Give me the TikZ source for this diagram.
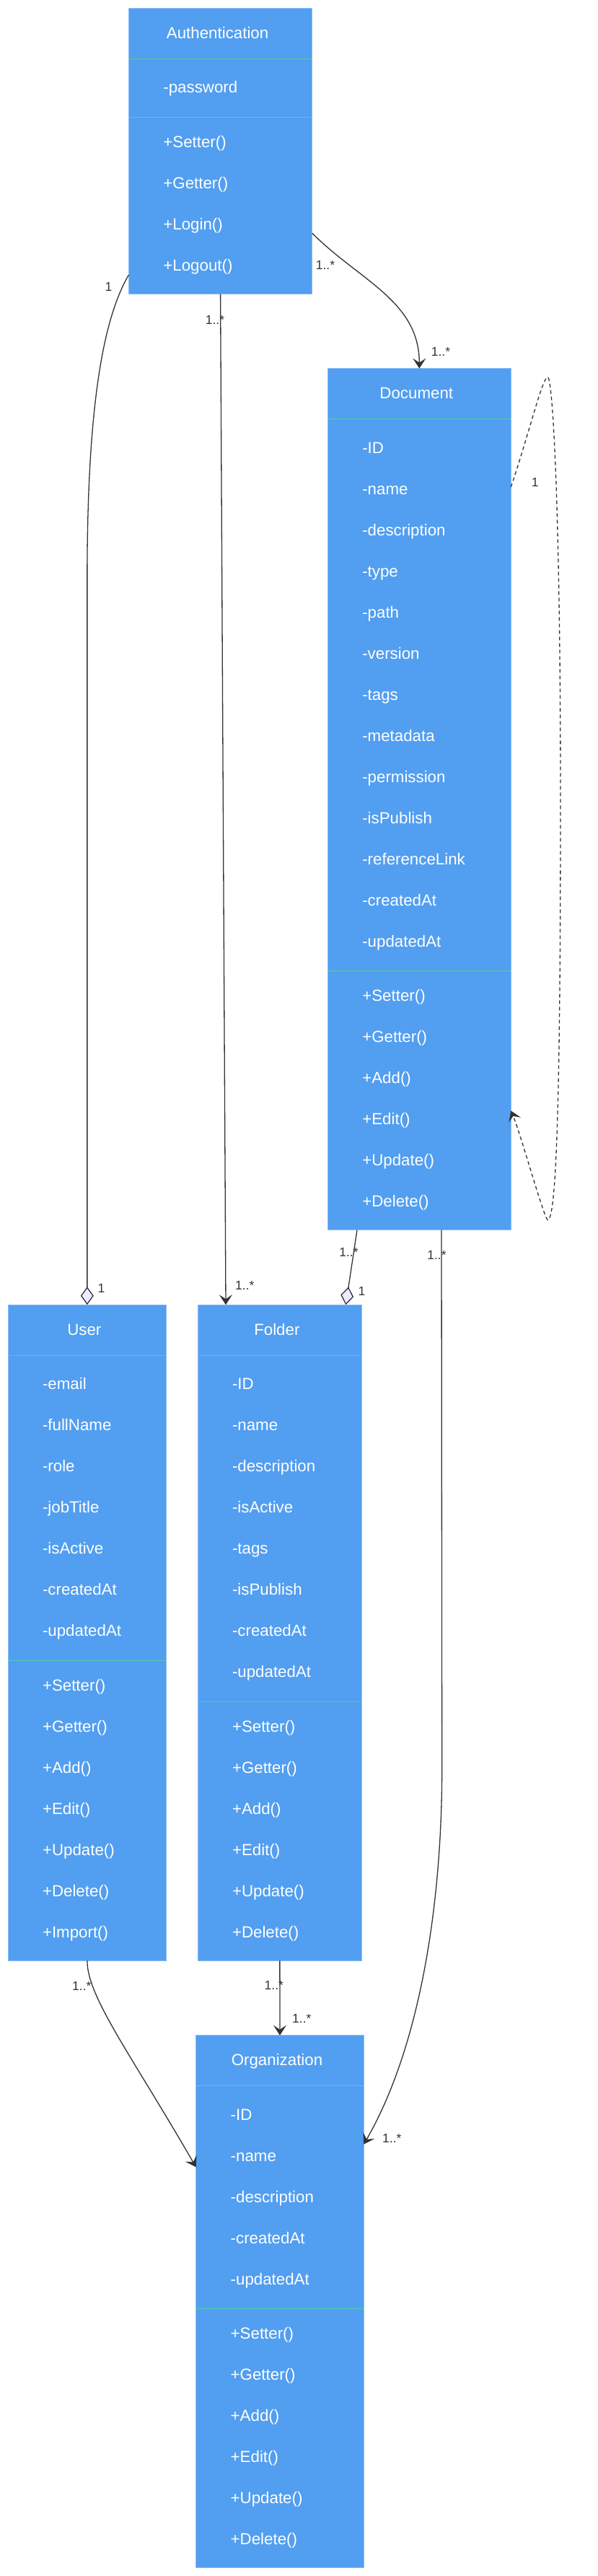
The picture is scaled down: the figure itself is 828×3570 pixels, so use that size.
\documentclass[tikz,border=0pt]{standalone}
\usepackage{fontspec}
\setmainfont{Liberation Sans}
\usepackage{tikz}
\usetikzlibrary{arrows.meta}
\usetikzlibrary{calc}
\usetikzlibrary{positioning}
\definecolor{classblue}{RGB}{82,158,240}
\definecolor{classedge}{RGB}{140,190,246}
\definecolor{splitcol}{RGB}{78,208,170}
\definecolor{linkgray}{RGB}{51,51,51}
\definecolor{diamondfill}{RGB}{236,236,255}
\newcommand{\linestrut}[1]{\rule[-#1]{0pt}{57pt}}
\tikzset{cls/.style={rectangle, fill=classblue, draw=classedge, line width=0.8pt, inner sep=0pt, outer sep=0pt, text=white, font=\fontsize{22.3}{57}\selectfont}}
\tikzset{clstitle/.style={cls, minimum height=70pt, anchor=north, execute at begin node=\linestrut{21.5pt}, execute at end node={\linestrut{21.5pt}\hspace*{8pt}}}}
\tikzset{attrbox/.style={cls, align=left, inner xsep=48pt, execute at begin node=\linestrut{21.5pt}, execute at end node=\linestrut{21.5pt}}}
\tikzset{methbox/.style={cls, align=left, inner xsep=48pt, execute at begin node=\linestrut{23.5pt}, execute at end node=\linestrut{23.5pt}}}
\tikzset{splitrule/.style={draw=splitcol, line width=1.5pt}}
\tikzset{assoc/.style={draw=linkgray, line width=1.3pt, -{Stealth[length=14pt,width=18pt,inset=6pt]}}}
\tikzset{aggr/.style={draw=linkgray, line width=1.3pt, -{Diamond[length=25pt,width=18pt,fill=diamondfill]}}}
\tikzset{mult/.style={text=linkgray, inner sep=0pt, font=\fontsize{17.5}{20}\selectfont}}

\begin{document}
\begin{tikzpicture}[x=1pt,y=1pt]
\useasboundingbox[fill=white] (0,0) rectangle (828,-3570);

\node[clstitle, minimum width=254.4pt] (AuthT) at (305.6,-11.4) {Authentication};
\node[attrbox, text width=158.4pt, minimum height=81pt, below=0pt of AuthT] (AuthA) {-password};
\node[methbox, text width=158.4pt, minimum height=245pt, below=0pt of AuthA] (AuthM)
  {+Setter()\\+Getter()\\+Login()\\+Logout()};

\node[clstitle, minimum width=254pt] (DocT) at (581.3,-510.6) {Document};
\node[attrbox, text width=158pt, minimum height=765pt, below=0pt of DocT] (DocA)
  {-ID\\-name\\-description\\-type\\-path\\-version\\-tags\\-metadata\\-permission\\-isPublish\\-referenceLink\\-createdAt\\-updatedAt};
\node[methbox, text width=158pt, minimum height=359pt, below=0pt of DocA] (DocM)
  {+Setter()\\+Getter()\\+Add()\\+Edit()\\+Update()\\+Delete()};

\node[clstitle, minimum width=219.7pt] (UserT) at (120.85,-1808.3) {User};
\node[attrbox, text width=123.7pt, minimum height=423pt, below=0pt of UserT] (UserA)
  {-email\\-fullName\\-role\\-jobTitle\\-isActive\\-createdAt\\-updatedAt};
\node[methbox, text width=123.7pt, minimum height=416pt, below=0pt of UserA] (UserM)
  {+Setter()\\+Getter()\\+Add()\\+Edit()\\+Update()\\+Delete()\\+Import()};

\node[clstitle, minimum width=227.7pt] (FoldT) at (387.85,-1808.3) {Folder};
\node[attrbox, text width=131.7pt, minimum height=480pt, below=0pt of FoldT] (FoldA)
  {-ID\\-name\\-description\\-isActive\\-tags\\-isPublish\\-createdAt\\-updatedAt};
\node[methbox, text width=131.7pt, minimum height=359pt, below=0pt of FoldA] (FoldM)
  {+Setter()\\+Getter()\\+Add()\\+Edit()\\+Update()\\+Delete()};

\node[clstitle, minimum width=232.6pt] (OrgT) at (388,-2820.7) {Organization};
\node[attrbox, text width=136.6pt, minimum height=309pt, below=0pt of OrgT] (OrgA)
  {-ID\\-name\\-description\\-createdAt\\-updatedAt};
\node[methbox, text width=136.6pt, minimum height=359pt, below=0pt of OrgA] (OrgM)
  {+Setter()\\+Getter()\\+Add()\\+Edit()\\+Update()\\+Delete()};

\foreach \c in {Auth,Doc,User,Fold,Org}{
  \draw[splitrule] (\c T.south west) -- (\c T.south east);
  \draw[splitrule] (\c A.south west) -- (\c A.south east);
}

% links
\coordinate (UserBend) at ([yshift=1008pt]UserT.north);
\coordinate (DocDrop) at ([xshift=31.4pt,yshift=-745pt]DocM.south);
\coordinate (LoopTop) at ([xshift=51pt,yshift=57.9pt]DocA.north east);
\coordinate (LoopMid) at ([xshift=68.7pt,yshift=-529.4pt]DocA.north east);
\coordinate (LoopLow) at ([xshift=51pt,yshift=-345.1pt]DocM.north east);

\draw[aggr] ([yshift=26.4pt]AuthM.south west) .. controls +(-35,-60) and +(0,240) .. (UserBend) -- (UserT.north);
\draw[assoc] (AuthM.south) -- ([xshift=-74.85pt]FoldT.north);
\draw[assoc] ([yshift=84.2pt]AuthM.south east) to[out=-45,in=90] (DocT.north);
\draw[aggr] ([xshift=-86.3pt]DocM.south) -- ([xshift=91.5pt]FoldT.north);
\draw[assoc] ([xshift=30.7pt]DocM.south) -- (DocDrop) .. controls +(0,-200) and +(75,130) .. ([yshift=-81pt]OrgA.north east);
\draw[assoc] (FoldM.south) -- (OrgT.north);
\draw[assoc] (UserM.south) .. controls +(0,-50) and +(-90,156) .. ([yshift=-112.6pt]OrgA.north west);
\draw[assoc, dash pattern=on 5pt off 4pt] ([yshift=-94.4pt]DocA.north east)
  .. controls +(26.7,79.6) and +(-7.3,0) .. (LoopTop)
  .. controls +(6.7,0) and +(0,410) .. (LoopMid)
  .. controls +(0,-390) and +(12.7,0) .. (LoopLow)
  .. controls +(-5.3,2.7) and +(13.7,-32.7) .. ([yshift=-193.7pt]DocM.north east);

\node[mult] (M1) at (150.5,-397) {1};
\node[mult] (M2) at (140.5,-1785) {1};
\node[mult] (M3) at (298,-443) {1..*};
\node[mult] (M4) at (339.3,-1781.7) {1..*};
\node[mult] (M5) at (451,-367.9) {1..*};
\node[mult] (M6) at (611,-487.5) {1..*};
\node[mult] (M7) at (483.5,-1735) {1..*};
\node[mult] (M8) at (501.6,-1789.3) {1};
\node[mult] (M9) at (605.5,-1739.8) {1..*};
\node[mult] (M10) at (543.3,-2963.3) {1..*};
\node[mult] (M11) at (379.8,-2751.7) {1..*};
\node[mult] (M12) at (418.3,-2797) {1..*};
\node[mult] (M13) at (113.3,-2752.7) {1..*};
\node[mult] (M14) at (741.7,-668.3) {1};

\end{tikzpicture}
\end{document}
